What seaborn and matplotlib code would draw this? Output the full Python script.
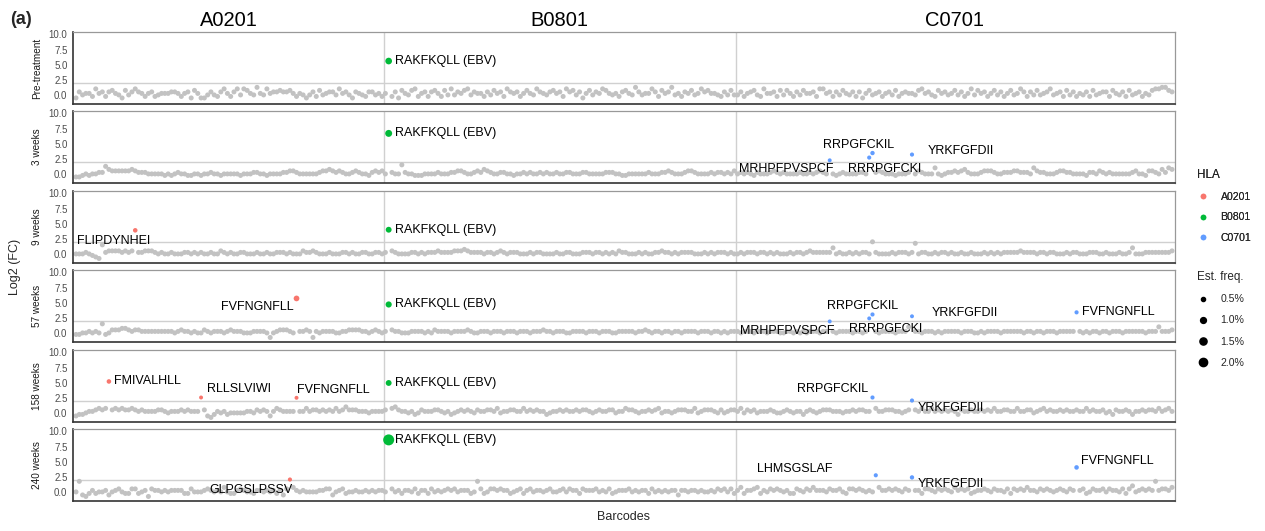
import numpy as np
import pandas as pd
import seaborn as sns
import matplotlib.pyplot as plt
import matplotlib.transforms as mtransforms
from matplotlib.lines import Line2D

sns.set_theme(style="white")
plt.rcParams['font.family'] = ['Liberation Sans', 'DejaVu Sans']

# Zeitpunkte (Zeilen) und HLA-Gruppen (Spalten)
timepoints = ["Pre-treatment", "3 weeks", "9 weeks", "57 weeks", "158 weeks", "240 weeks"]
hla_groups = ["A0201", "B0801", "C0701"]
n_barcodes = [94, 107, 133]
hla_colors = ["#F8766D", "#00BA38", "#619CFF"]

# Hintergrund-Barcodes, eine Ziffer pro Barcode:
# 0 = -1.0, 4 = 0.0, 9 = 1.25 (Schritt 0.25), x/y/z = 1.5/1.75/2.0
grey_pre = (
    "2645538563" "6754274686" "5356345556" "6535627522" "4643685368"
    "4875495485" "6676675354" "2463745664" "8564265436" "6453",
    "5736275478" "3563675374" "8465784655" "3647563865" "6357548654"
    "6756386746" "2574658754" "5367549645" "5863756945" "3657458675" "5436474",
    "4635674385" "5637475364" "7556388563" "6475463625" "7456356473"
    "5655478564" "3756457463" "5847563574" "6357458636" "4745684563"
    "7463546374" "5663754637" "4563547889" "976",
)
grey_w3 = (
    "2234344559" "7666666765" "5544444343" "4544334434" "4544344444"
    "3444554434" "4445566544" "4444566765" "6544565443" "5656",
    "45544x5443" "3344445444" "5566544565" "7654455443" "4454544545"
    "4454455444" "5544444555" "4433444444" "5444556544" "4566544445" "4554546",
    "4545435444" "5654544445" "4454565444" "3454444554" "5456544434"
    "4453465444" "8434556567" "5444566654" "4555665554" "8655444566"
    "5544443554" "6545444444" "5644366547" "587",
)
grey_w9 = (
    "44454321x5" "6666565665" "5666545445" "4445545454" "4544654544"
    "5544454454" "4555454446" "5565444544" "4554544554" "4554",
    "5465444455" "4545556555" "5666765555" "4554565455" "5444545544"
    "4454455444" "5554554545" "4655444545" "4455655454" "5555444545" "4555454",
    "4545554554" "5454445455" "4565555558" "4544545455" "4z54444545"
    "5545y45544" "5455454454" "4544454545" "4555556555" "5455455444"
    "5455444555" "4454445445" "8444555555" "556",
)
grey_w57 = (
    "33445454x3" "4666776566" "5555555555" "4565545446" "5455545655"
    "5444555541" "4566654555" "6515455554" "4556666554" "5654",
    "5665544455" "5545465555" "4555565445" "5545554555" "4555455565"
    "5455544555" "5455545554" "4555554556" "5455455455" "4555545554" "5545455",
    "5455545554" "5554455454" "5455545555" "4555545545" "5454555545"
    "5585554555" "4545555545" "5544545555" "4555555455" "4554555455"
    "5555545455" "4554555455" "5555455585" "556",
)
grey_w158 = (
    "2334556767" "6676766765" "6555566545" "5565655556" "2135453444"
    "4455465652" "5765555655" "7566565657" "5686665554" "5555",
    "6478655453" "4655566545" "3456565465" "5665745566" "5575656553"
    "4556565565" "6654565566" "4557665455" "6567455456" "6655745666" "5464566",
    "5746564555" "6544565455" "3565456665" "5545565665" "5475566655"
    "4565657557" "5656565365" "5655656575" "5665575566" "4567565565"
    "6556557565" "5645365565" "3556566575" "675",
)
grey_w240 = (
    "4y21353445" "2456433663" "4516554545" "5553364445" "6545474335"
    "6544355454" "5352647545" "4444556624" "5634454454" "5455",
    "4z64535546" "3553645456" "56455534y6" "3466565534" "5635645545"
    "6445646553" "6555645463" "4555645455" "3645454552" "5545545445" "4656463",
    "5735567354" "6565453365" "4657555465" "5643665654" "5467556565"
    "4654553665" "4656547565" "6345565465" "5463656575" "5465654565"
    "4657563465" "5646554636" "8456565y56" "657",
)
grey_rows = [grey_pre, grey_w3, grey_w9, grey_w57, grey_w158, grey_w240]

# Hervorgehobene Barcodes
hl_row = [0,
          1, 1, 1, 1, 1,
          2, 2,
          3, 3, 3, 3, 3, 3, 3,
          4, 4, 4, 4, 4, 4,
          5, 5, 5, 5, 5]
hl_barcode = [95,
              95, 229, 241, 242, 254,
              18, 95,
              67, 95, 229, 241, 242, 254, 304,
              10, 38, 67, 95, 242, 254,
              65, 95, 243, 254, 304]
hl_hla = ["B0801",
          "B0801", "C0701", "C0701", "C0701", "C0701",
          "A0201", "B0801",
          "A0201", "B0801", "C0701", "C0701", "C0701", "C0701", "C0701",
          "A0201", "A0201", "A0201", "B0801", "C0701", "C0701",
          "A0201", "B0801", "C0701", "C0701", "C0701"]
hl_log2fc = [5.6,
             6.7, 2.25, 2.7, 3.45, 3.2,
             3.9, 4.0,
             5.7, 4.7, 1.9, 2.4, 3.05, 2.75, 3.4,
             5.2, 2.55, 2.5, 4.95, 2.55, 2.05,
             2.05, 8.6, 2.75, 2.4, 4.05]
hl_freq = [1.3,
           1.4, 0.45, 0.5, 0.55, 0.5,
           0.6, 1.0,
           0.95, 1.1, 0.45, 0.45, 0.5, 0.45, 0.5,
           0.6, 0.45, 0.45, 1.0, 0.5, 0.5,
           0.5, 3.5, 0.5, 0.55, 0.6]
hl_label = ["RAKFKQLL (EBV)",
            "RAKFKQLL (EBV)", "MRHPFPVSPCF", "RRRPGFCKI", "RRPGFCKIL", "YRKFGFDII",
            "FLIPDYNHEI", "RAKFKQLL (EBV)",
            "FVFNGNFLL", "RAKFKQLL (EBV)", "MRHPFPVSPCF", "RRRPGFCKI", "RRPGFCKIL",
            "YRKFGFDII", "FVFNGNFLL",
            "FMIVALHLL", "RLLSLVIWI", "FVFNGNFLL", "RAKFKQLL (EBV)", "RRPGFCKIL", "YRKFGFDII",
            "GLPGSLPSSV", "RAKFKQLL (EBV)", "LHMSGSLAF", "YRKFGFDII", "FVFNGNFLL"]

# Beschriftungs-Versatz in Pixeln (dx, dy, Ausrichtung)
label_offsets = [(6, 0, "left"),
                 (6, 0, "left"), (-43, -9, "center"), (15, -11, "center"),
                 (-14, 8, "center"), (49, 4, "center"),
                 (-22, -11, "center"), (6, 0, "left"),
                 (-39, -9, "center"), (6, 0, "left"), (-42, -10, "center"),
                 (16, -11, "center"), (-10, 8, "center"), (53, 3, "center"), (5, 0, "left"),
                 (5, 0, "left"), (38, 8, "center"), (37, 8, "center"), (6, 0, "left"),
                 (-40, 8, "center"), (39, -7, "center"),
                 (-39, -10, "center"), (6, 0, "left"), (-81, 6, "center"),
                 (39, -7, "center"), (4, 6, "left")]

LEVELS = "0123456789xyz"
GREY = "#C2C2C2"
FREQ_MAX = 3.5
AREA_MAX = 62.5

hl = pd.DataFrame({"row": hl_row, "barcode": hl_barcode, "hla": hl_hla,
                   "log2fc": hl_log2fc, "freq": hl_freq, "label": hl_label})

# Hintergrund-Tabelle aufbauen
recs = []
starts = np.cumsum([0] + n_barcodes[:-1])
for r, groups in enumerate(grey_rows):
    taken = set(hl.loc[hl["row"] == r, "barcode"])
    for g, s in enumerate(groups):
        for j, ch in enumerate(s[:n_barcodes[g]]):
            b = starts[g] + j
            if b in taken:
                continue
            recs.append({"row": r, "barcode": b, "log2fc": LEVELS.index(ch) * 0.25 - 1.0})
grey = pd.DataFrame(recs)

n_total = sum(n_barcodes)
W, H = 1265, 531
fig = plt.figure(figsize=(W / 100, H / 100), dpi=100)
tops = [32, 111, 191, 270, 350, 429]
axes = []
for r, tp in enumerate(timepoints):
    ax = fig.add_axes([73 / W, 1 - (tops[r] + 72) / H, 1102 / W, 72 / H])
    axes.append(ax)
    ax.axhline(2, color="#D0D0D0", lw=1, zorder=0.5)
    for bnd in np.cumsum(n_barcodes)[:-1]:
        ax.axvline(bnd - 0.5, color="#D0D0D0", lw=1, zorder=0.5)

    sns.scatterplot(data=grey[grey["row"] == r], x="barcode", y="log2fc", color=GREY,
                    s=13, edgecolor="none", linewidth=0, ax=ax, zorder=2)
    sub = hl[hl["row"] == r]
    sns.scatterplot(data=sub, x="barcode", y="log2fc", hue="hla", hue_order=hla_groups,
                    palette=hla_colors, size="freq", sizes=(0, AREA_MAX),
                    size_norm=(0, FREQ_MAX), edgecolor="none", linewidth=0,
                    legend=False, ax=ax, zorder=3)
    for i, row in sub.iterrows():
        dx, dy, ha = label_offsets[i]
        ax.annotate(row["label"], (row["barcode"], row["log2fc"]), xytext=(dx, dy),
                    textcoords="offset pixels", ha=ha, va="center", fontsize=9,
                    color="black", zorder=4)

    ax.set_xlim(-0.91, n_total - 1 + 0.91)
    ax.set_ylim(-1.5, 10.4)
    ax.set_yticks([0, 2.5, 5, 7.5, 10])
    ax.set_yticklabels(["0.0", "2.5", "5.0", "7.5", "10.0"])
    ax.set_xticks([])
    ax.tick_params(axis="y", length=0, pad=4, labelsize=7, labelcolor="#4D4D4D")
    ax.set_xlabel("")
    ax.set_ylabel(tp, fontsize=7.2, color="#1A1A1A", labelpad=5)
    for side in ["left", "bottom"]:
        ax.spines[side].set_color("#333333")
        ax.spines[side].set_linewidth(1.2)
    for side in ["top", "right"]:
        ax.spines[side].set_color("#999999")
        ax.spines[side].set_linewidth(0.9)

# Spaltentitel
trans = mtransforms.blended_transform_factory(axes[0].transData, fig.transFigure)
for g, name in enumerate(hla_groups):
    center = starts[g] + (n_barcodes[g] - 1) / 2
    axes[0].text(center, 1 - 21 / H, name, transform=trans, ha="center", va="center",
                 fontsize=14.5, color="black")

fig.text(10 / W, 1 - 19 / H, "(a)", fontweight="bold", fontsize=13, ha="left", va="center")
fig.text(15 / W, 1 - 267 / H, "Log2 (FC)", rotation=90, fontsize=9, ha="center", va="center")
fig.text(624 / W, 1 - 517 / H, "Barcodes", fontsize=9, ha="center", va="center")

# Legenden
hla_handles = [Line2D([], [], marker="o", ls="", color=c, markersize=3) for c in hla_colors]
leg1 = fig.legend(hla_handles, hla_groups, title="HLA", loc="upper left",
                  bbox_to_anchor=(1192 / W, 1 - 164 / H), frameon=False, fontsize=7.6,
                  title_fontsize=8.4, handlelength=1.0, handletextpad=1.2,
                  labelspacing=1.0, borderpad=0, alignment="left")
freq_breaks = [0.5, 1.0, 1.5, 2.0]
freq_handles = [Line2D([], [], marker="o", ls="", color="black",
                       markersize=np.sqrt(AREA_MAX * f / FREQ_MAX)) for f in freq_breaks]
leg2 = fig.legend(freq_handles, ["0.5%", "1.0%", "1.5%", "2.0%"], title="Est. freq.",
                  loc="upper left", bbox_to_anchor=(1192 / W, 1 - 266 / H), frameon=False,
                  fontsize=7.6, title_fontsize=8.4, handlelength=1.0, handletextpad=1.2,
                  labelspacing=1.05, borderpad=0, alignment="left")
fig.add_artist(leg1)

fig.savefig("out.png", dpi=100)
